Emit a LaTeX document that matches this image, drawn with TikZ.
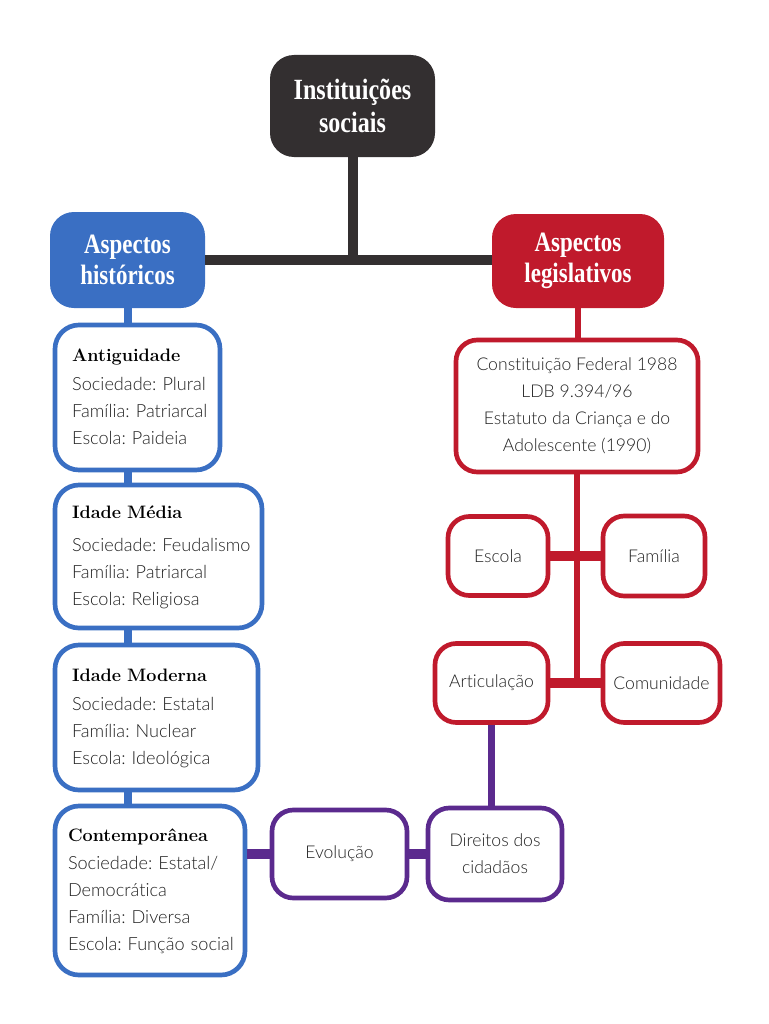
\documentclass[tikz,border=0pt]{standalone}
\usepackage{fontspec}
\newfontfamily\bodyfont[Ligatures=NoCommon]{Lato Light}
\newfontfamily\headfont[FakeStretch=0.82]{Liberation Serif}
\usetikzlibrary{positioning}
\definecolor{titlegray}{HTML}{332F30}
\definecolor{histblue}{HTML}{3A6FC3}
\definecolor{legred}{HTML}{C01A2C}
\definecolor{evolpurple}{HTML}{5B2A8E}
\definecolor{textgray}{HTML}{222222}
\tikzset{
  headbox/.style = {rounded corners = 18pt, text = white, align = center, inner sep = 0pt,
    font = \headfont\bfseries\fontsize{21}{23}\selectfont},
  bluebox/.style = {draw = histblue, line width = 3.5pt, fill = white, rounded corners = 18pt,
    align = left, inner sep = 0pt, text = textgray, font = \bodyfont\frenchspacing\fontsize{13.6}{20.25}\selectfont},
  redbox/.style = {draw = legred, line width = 3.5pt, fill = white, rounded corners = 16pt,
    align = center, inner sep = 0pt, text = textgray, font = \bodyfont\fontsize{13.2}{20.25}\selectfont},
  purplebox/.style = {redbox, draw = evolpurple}
}
\newcommand{\period}[1]{{\rmfamily\bfseries\color{black}\fontsize{13.5}{16}\selectfont #1}}
\newcommand{\periodlines}[3]{\begin{tabular}{@{}l@{}}\period{#1}\\[#2] #3\end{tabular}}
\begin{document}
\begin{tikzpicture}[x = 0.75pt, y = -0.75pt]
		\useasboundingbox[fill = white] (0, 0) rectangle (768, 1024);

		\node[headbox, fill = titlegray, minimum width = 123.75pt, minimum height = 76.5pt,
			font = \headfont\bfseries\fontsize{22}{25}\selectfont] (inst) at (352.5, 106) {Instituições\\sociais};
		\node[headbox, fill = histblue, minimum width = 116.25pt, minimum height = 72pt] (hist) at (127.5, 260) {Aspectos\\históricos};
		\node[headbox, fill = legred, minimum width = 129pt, minimum height = 70.5pt] (legis) at (578, 261) {Aspectos\\legislativos};

		% historical periods
		\node[bluebox, minimum width = 123.75pt, minimum height = 108.75pt, text width = 98pt] (antig) at (137.5, 397.5)
			{\periodlines{Antiguidade}{1pt}{Sociedade: Plural\\ Família: Patriarcal\\ Escola: Paideia}};
		\node[bluebox, minimum width = 155.25pt, minimum height = 107.25pt, text width = 129.75pt] (media) at (158.5, 556.5)
			{\periodlines{Idade Média}{5pt}{Sociedade: Feudalismo\\ Família: Patriarcal\\ Escola: Religiosa}};
		\node[bluebox, minimum width = 152.25pt, minimum height = 108.75pt, text width = 126.75pt] (moderna) at (156.5, 717.5)
			{\periodlines{Idade Moderna}{2pt}{Sociedade: Estatal\\ Família: Nuclear\\ Escola: Ideológica}};
		\node[bluebox, minimum width = 142.5pt, minimum height = 126.75pt, text width = 123pt] (contemp) at (150, 890.5)
			{\periodlines{Contemporânea}{1pt}{Sociedade: Estatal/\\ Democrática\\ Família: Diversa\\ Escola: Função social}};

		% legislation
		\node[redbox, minimum width = 181.5pt, minimum height = 99pt] (const) at (577, 406)
			{Constituição Federal 1988\\ LDB 9.394/96\\ Estatuto da Criança e do\\ Adolescente (1990)};
		\node[redbox, minimum width = 75pt, minimum height = 59.25pt] (escola) at (498, 556) {Escola};
		\node[redbox, minimum width = 76.5pt, minimum height = 60pt] (familia) at (654, 556) {Família};
		\node[redbox, minimum width = 84.75pt, minimum height = 59.25pt] (artic) at (491.5, 683) {Articulação};
		\node[redbox, minimum width = 87.75pt, minimum height = 59.25pt] (comun) at (661.5, 683) {Comunidade};

		\node[purplebox, minimum width = 100.5pt, minimum height = 69pt] (direitos) at (495, 854) {Direitos dos\\ cidadãos};
		\node[purplebox, minimum width = 101.25pt, minimum height = 66pt] (evol) at (339.5, 854) {Evolução};

		% edges
		\draw[line width = 7.5pt, titlegray] (inst.south) -- (inst.south |- hist.east);
		\draw[line width = 7.5pt, titlegray] (hist.east) -- (hist.east -| legis.west);

		\draw[line width = 6pt, histblue] (hist.south) -- (hist.south |- antig.north);
		\draw[line width = 6pt, histblue] (antig.south -| hist.south) -- (hist.south |- media.north);
		\draw[line width = 6pt, histblue] (media.south -| hist.south) -- (hist.south |- moderna.north);
		\draw[line width = 6pt, histblue] (moderna.south -| hist.south) -- (hist.south |- contemp.north);

		\draw[line width = 4.5pt, legred] (legis.south) -- (legis.south |- const.north);
		\draw[line width = 5pt, legred] (const.south) -- (const.south |- comun.west);
		\draw[line width = 7.5pt, legred] (escola.east) -- (familia.west);
		\draw[line width = 7.5pt, legred] (artic.east) -- (comun.west);

		\draw[line width = 5pt, evolpurple] (artic.south) -- (artic.south |- direitos.north);
		\draw[line width = 7.5pt, evolpurple] (evol.east) -- (direitos.west);
		\draw[line width = 7.5pt, evolpurple] (evol.west -| contemp.east) -- (evol.west);

\end{tikzpicture}
\end{document}
